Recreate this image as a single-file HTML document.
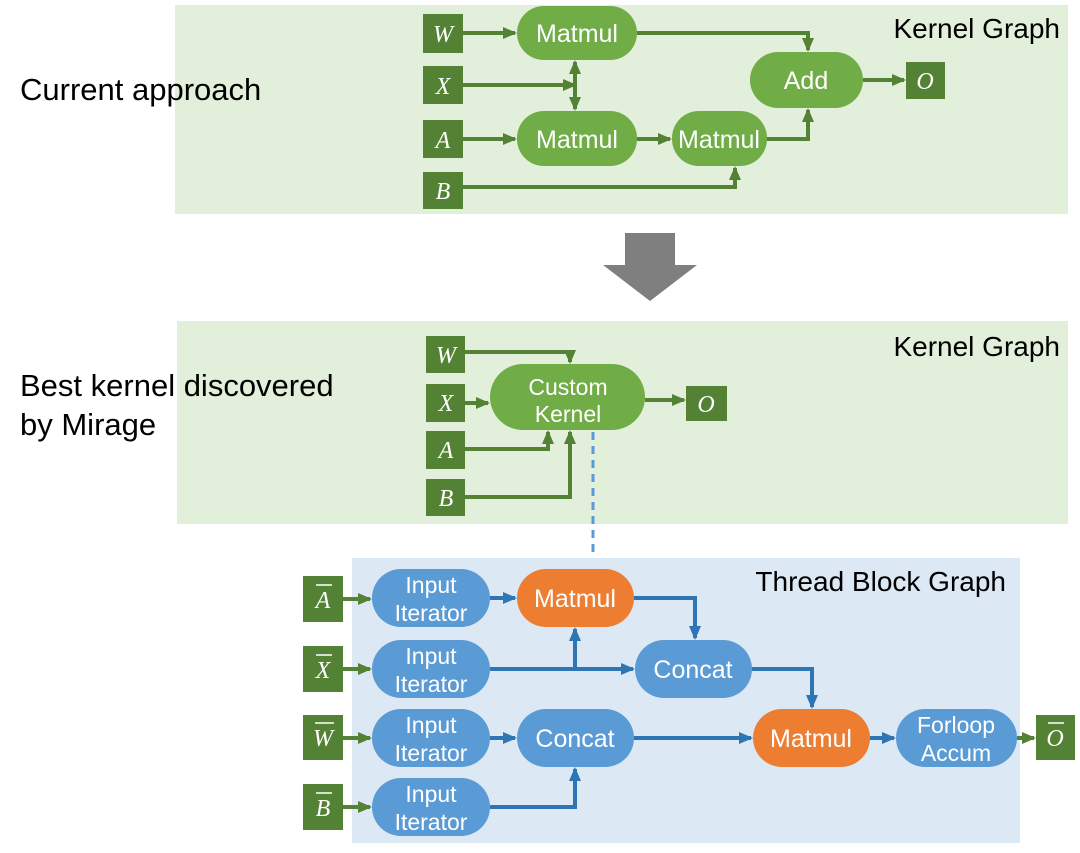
<!DOCTYPE html>
<html><head><meta charset="utf-8"><style>
body{margin:0;background:#fff;}
svg{display:block;}
text{font-family:"Liberation Sans",sans-serif;}
.m text{font-family:"Liberation Serif",serif;font-style:italic;font-size:24px;fill:#fff;}
.n text{font-size:25px;fill:#fff;}
.t text{font-size:23px;fill:#fff;}
.l{font-size:31px;fill:#000;}
.h{font-size:28px;fill:#000;}
</style></head><body>
<svg width="1080" height="853" viewBox="0 0 1080 853" xmlns="http://www.w3.org/2000/svg">
<defs>
<marker id="ag" markerWidth="14" markerHeight="14" refX="12" refY="7" orient="auto" markerUnits="userSpaceOnUse"><path d="M0,1 L14,7 L0,13 z" fill="#548235"/></marker>
<marker id="ab" markerWidth="14" markerHeight="14" refX="12" refY="7" orient="auto" markerUnits="userSpaceOnUse"><path d="M0,1 L14,7 L0,13 z" fill="#2e75b6"/></marker>
</defs>
<!-- top panel -->
<rect x="175" y="5" width="893" height="209" fill="#e2efda"/>
<text class="l" x="20" y="100">Current approach</text>
<text class="h" x="1060" y="38" text-anchor="end">Kernel Graph</text>
<g fill="#548235">
<rect x="423" y="14" width="40" height="39"/><rect x="423" y="66" width="40" height="38"/>
<rect x="423" y="120" width="40" height="38"/><rect x="423" y="172" width="40" height="37"/>
<rect x="906" y="62" width="39" height="37"/>
</g>
<g class="m" text-anchor="middle"><text x="443" y="42">W</text><text x="443" y="94">X</text><text x="443" y="148">A</text><text x="443" y="199">B</text><text x="925" y="89">O</text></g>
<g fill="none" stroke="#548235" stroke-width="4" marker-end="url(#ag)">
<path d="M463 33 H515"/><path d="M637 33 H808 V50"/>
<path d="M463 85 H575"/><path d="M575 85 V62"/><path d="M575 85 V109"/>
<path d="M463 139 H515"/><path d="M637 139 H670"/>
<path d="M767 139 H808 V110"/><path d="M463 187 H735 V168"/><path d="M863 80 H904"/>
</g>
<g fill="#70ad47">
<rect x="517" y="6" width="120" height="54" rx="27"/><rect x="517" y="111" width="120" height="55" rx="27"/>
<rect x="672" y="111" width="95" height="55" rx="27"/><rect x="750" y="52" width="113" height="56" rx="28"/>
</g>
<g class="n" text-anchor="middle"><text x="577" y="42">Matmul</text><text x="577" y="148">Matmul</text><text x="719" y="148">Matmul</text><text x="806" y="89">Add</text></g>
<!-- big arrow -->
<path d="M625 233 H675 V265 H697 L650 301 L603 265 H625 z" fill="#7f7f7f"/>
<!-- middle panel -->
<rect x="177" y="321" width="891" height="203" fill="#e2efda"/>
<text class="l" x="20" y="396">Best kernel discovered</text>
<text class="l" x="20" y="435">by Mirage</text>
<text class="h" x="1060" y="356" text-anchor="end">Kernel Graph</text>
<g fill="#548235">
<rect x="426" y="336" width="39" height="37"/><rect x="426" y="384" width="39" height="38"/>
<rect x="426" y="431" width="39" height="38"/><rect x="426" y="479" width="39" height="37"/>
<rect x="686" y="386" width="41" height="35"/>
</g>
<g class="m" text-anchor="middle"><text x="446" y="363">W</text><text x="446" y="411">X</text><text x="446" y="458">A</text><text x="446" y="506">B</text><text x="706" y="412">O</text></g>
<g fill="none" stroke="#548235" stroke-width="4" marker-end="url(#ag)">
<path d="M465 352 H570 V362"/><path d="M465 403 H488"/><path d="M465 449 H548 V432"/>
<path d="M465 497 H570 V432"/><path d="M645 400 H684"/>
</g>
<rect x="490" y="364" width="155" height="66" rx="33" fill="#70ad47"/>
<g class="t" text-anchor="middle"><text x="568" y="395">Custom</text><text x="568" y="422">Kernel</text></g>
<path d="M593 432 V558" stroke="#5b9bd5" stroke-width="3" stroke-dasharray="8,6"/>
<!-- thread block -->
<rect x="352" y="558" width="668" height="285" fill="#dde8f5"/>
<text class="h" x="1006" y="591" text-anchor="end">Thread Block Graph</text>
<g fill="#548235">
<rect x="303" y="576" width="40" height="46"/><rect x="303" y="646" width="40" height="46"/>
<rect x="303" y="715" width="40" height="45"/><rect x="303" y="784" width="40" height="46"/>
<rect x="1036" y="715" width="39" height="45"/>
</g>
<g class="m" text-anchor="middle"><text x="323" y="608">A</text><text x="323" y="678">X</text><text x="323" y="746">W</text><text x="323" y="816">B</text><text x="1055" y="746">O</text></g>
<g stroke="#fff" stroke-width="1.5"><path d="M316 585 H332"/><path d="M316 655 H332"/><path d="M315 723 H334"/><path d="M316 793 H332"/><path d="M1048 723 H1064"/></g>
<g fill="none" stroke="#548235" stroke-width="4" marker-end="url(#ag)">
<path d="M343 599 H370"/><path d="M343 669 H370"/><path d="M343 738 H370"/><path d="M343 807 H370"/><path d="M1017 738 H1034"/>
</g>
<g fill="none" stroke="#2e75b6" stroke-width="4" marker-end="url(#ab)">
<path d="M490 598 H515"/><path d="M634 598 H695 V638"/><path d="M490 669 H633"/><path d="M575 669 V629"/>
<path d="M752 669 H812 V707"/><path d="M490 738 H515"/><path d="M634 738 H751"/><path d="M870 738 H894"/>
<path d="M490 807 H575 V769"/>
</g>
<g fill="#5b9bd5">
<rect x="372" y="569" width="118" height="58" rx="29"/><rect x="372" y="640" width="118" height="58" rx="29"/>
<rect x="372" y="709" width="118" height="58" rx="29"/><rect x="372" y="778" width="118" height="58" rx="29"/>
<rect x="635" y="640" width="117" height="58" rx="29"/><rect x="517" y="709" width="117" height="58" rx="29"/>
<rect x="896" y="709" width="121" height="58" rx="29"/>
</g>
<g fill="#ed7d31"><rect x="517" y="569" width="117" height="58" rx="29"/><rect x="753" y="709" width="117" height="58" rx="29"/></g>
<g class="t" text-anchor="middle">
<text x="431" y="593">Input</text><text x="431" y="621">Iterator</text>
<text x="431" y="664">Input</text><text x="431" y="692">Iterator</text>
<text x="431" y="733">Input</text><text x="431" y="761">Iterator</text>
<text x="431" y="802">Input</text><text x="431" y="830">Iterator</text>
<text x="956" y="733">Forloop</text><text x="956" y="761">Accum</text>
</g>
<g class="n" text-anchor="middle">
<text x="575" y="607">Matmul</text><text x="693" y="678">Concat</text><text x="575" y="747">Concat</text>
<text x="811" y="747">Matmul</text>
</g>
</svg>
</body></html>
